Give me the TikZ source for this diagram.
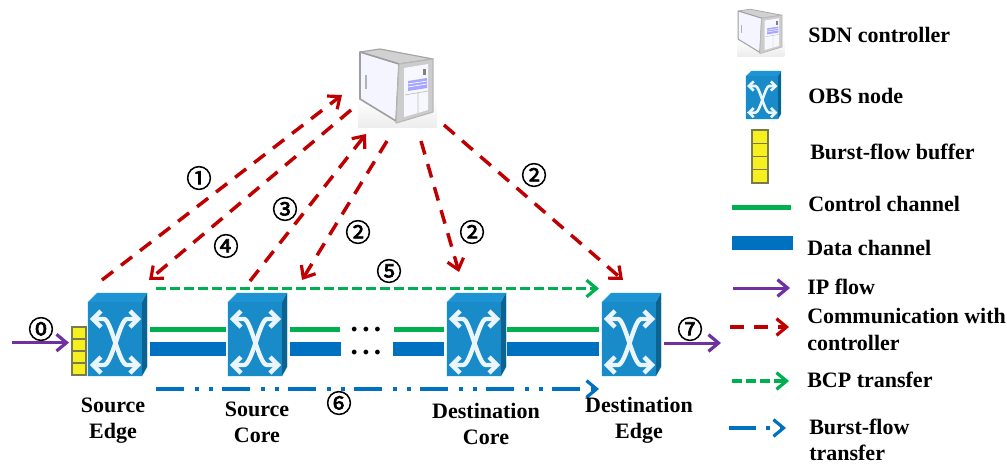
\documentclass[tikz,border=0pt]{standalone}
\usepackage{fontspec}
\setmainfont{Liberation Serif}
\newfontfamily\circfont[FakeBold=2.6]{Noto Sans CJK JP}
\usetikzlibrary{arrows.meta,calc}
\definecolor{cred}{HTML}{C00000}
\definecolor{cgreen}{HTML}{00B050}
\definecolor{cblue}{HTML}{0070C0}
\definecolor{cpurple}{HTML}{7030A0}
\definecolor{obsfront}{HTML}{1A8BC9}
\definecolor{obstop}{HTML}{1E94D4}
\definecolor{obsside}{HTML}{0D6390}
\definecolor{obshalo}{HTML}{D8F3FB}
\definecolor{obsx}{HTML}{EAF6FB}
\definecolor{bufy}{HTML}{F5F01E}
\definecolor{bufb}{HTML}{7A7A50}
\tikzset{
  iconbox/.style={inner sep=0pt,outer sep=0pt},
  lbl/.style={font=\fontsize{16.5}{19.5}\selectfont\bfseries,inner sep=0pt,align=center},
  leg/.style={font=\fontsize{16.5}{20}\selectfont\bfseries,inner sep=0pt,align=left,anchor=west},
  num/.style={font=\fontsize{19}{19}\selectfont\circfont,inner sep=0pt,xshift=0.75pt},
  vee/.style={-{Straight Barb[length=7.5pt,width=12.5pt,line width=2.4pt]}},
  ctrlch/.style={draw=cgreen,line width=3.75pt},
  datach/.style={draw=cblue,line width=10.5pt},
  ipflow/.style={vee,draw=cpurple,line width=2.25pt},
  comm/.style={vee,draw=cred,line width=2.6pt,dash pattern=on 10.5pt off 7.5pt},
  bcp/.style={vee,draw=cgreen,line width=2.4pt,dash pattern=on 7.5pt off 3pt},
  burst/.style={vee,draw=cblue,line width=2.4pt,dash pattern=on 21pt off 8pt on 3pt off 7.5pt on 3pt off 7pt},
  dotsn/.style={font=\fontsize{22}{17.25}\selectfont\bfseries,inner sep=0pt,align=center}
}
\newcommand{\obsicon}[5]{%
  \node[iconbox,minimum width=#4*44.25pt,minimum height=#5*62.25pt,anchor=north west] (#1) at (#2,#3) {};
  \begin{scope}[shift={(#2,#3)},xscale=#4,yscale=#5]
    \draw[draw=obshalo,line width=1.2pt,line join=round] (0,9)--(9,0)--(59,0)--(59,74)--(54,83)--(0,83)--cycle;
    \fill[obstop] (0,9)--(9,0)--(59,0)--(54,9)--cycle;
    \fill[obsside] (54,9)--(59,0)--(59,74)--(54,83)--cycle;
    \fill[obsfront] (0,9) rectangle (54,83);
    \begin{scope}[draw=obsx,line width=#4*3.3pt,line join=miter]
      \draw (5,26)--(16,26) .. controls (23,26) and (31,72) .. (39,72)--(50,72);
      \draw (50,26)--(39,26) .. controls (32,26) and (24,72) .. (16,72)--(5,72);
      \draw (13,18)--(5,26)--(13,34);
      \draw (42,18)--(50,26)--(42,34);
      \draw (13,64)--(5,72)--(13,80);
      \draw (42,64)--(50,72)--(42,80);
    \end{scope}
  \end{scope}}
\newcommand{\servericon}[4]{%
  \node[iconbox,minimum width=#4*59.25pt,minimum height=#4*60pt,anchor=north west] (#1) at (#2,#3) {};
  \begin{scope}[shift={(#2,#3)},scale=#4]
    \shade[top color=white,bottom color=black!7,draw=none] (0,52) rectangle (79,80);
    \fill[draw=black!35,line width=#4*0.9pt,fill=black!18,line join=round] (2,5)--(22,2)--(75,12)--(41,17)--cycle;
    \fill[draw=black!38,line width=#4*1.2pt,fill=blue!4!white,line join=round] (2,5)--(41,17)--(38,74)--(2,52)--cycle;
    \fill[draw=black!28,line width=#4*0.9pt,fill=black!20,line join=round] (41,17)--(75,12)--(75,65)--(38,76)--cycle;
    \fill[fill=blue!3!white] (46,21)--(70,17)--(70,63)--(46,70)--cycle;
    \fill[blue!35!white] (50,34)--(69,31)--(69,41)--(50,44)--cycle;
    \draw[white,line width=#4*0.5pt] (50,37)--(69,34) (50,40)--(69,37);
    \draw[black!25,line width=#4*0.5pt] (47,48)--(70,44) (60,46)--(60,66);
    \fill[black!50] (65,22) rectangle (68,28);
    \draw[black!30,line width=#4*0.8pt] (8,28)--(8,42);
  \end{scope}}
\newcommand{\bufficon}[5]{%
  \node[iconbox,draw=bufb,fill=bufy,line width=0.8pt,minimum width=#4*0.75pt,minimum height=#5*0.75pt,anchor=north west] (#1) at (#2,#3) {};
  \draw[bufb,line width=0.8pt] ($(#1.north west)!.25!(#1.south west)$)--($(#1.north east)!.25!(#1.south east)$)
    ($(#1.north west)!.5!(#1.south west)$)--($(#1.north east)!.5!(#1.south east)$)
    ($(#1.north west)!.75!(#1.south west)$)--($(#1.north east)!.75!(#1.south east)$);}
\begin{document}
\begin{tikzpicture}[x=0.75pt,y=-0.75pt]
\useasboundingbox (0,0) rectangle (1007,464);
% --- network icons
\servericon{ctrl}{358}{47}{1}
\obsicon{se}{88}{293}{1}{1}
\obsicon{sc}{228}{293}{1}{1}
\obsicon{dc}{447}{293}{1}{1}
\obsicon{de}{602}{293}{1}{1}
\bufficon{buf}{72}{327}{14}{48}
% --- dots
\node[dotsn] (dots) at (366,341) {.\hspace{3.2pt}.\hspace{3.2pt}.\\.\hspace{3.2pt}.\hspace{3.2pt}.};
% --- free ends
\coordinate (inflow) at (12,342.7);
\coordinate (outflow) at (721,343);
\coordinate (cta) at (340,329.5);
\coordinate (ctb) at (394,329.5);
\coordinate (dta) at (341,348.5);
\coordinate (dtb) at (393,348.5);
% --- channels
\draw[ctrlch] ([shift={(32.5,-5)}]se.center)--([shift={(-31.5,-5)}]sc.center);
\draw[ctrlch] ([shift={(32.5,-5)}]sc.center)--(cta);
\draw[ctrlch] (ctb)--([shift={(-32.5,-5)}]dc.center);
\draw[ctrlch] ([shift={(30.5,-5)}]dc.center)--([shift={(-32.5,-5)}]de.center);
\draw[datach] ([shift={(32.5,14)}]se.center)--([shift={(-31.5,14)}]sc.center);
\draw[datach] ([shift={(32.5,14)}]sc.center)--(dta);
\draw[datach] (dtb)--([shift={(-32.5,14)}]dc.center);
\draw[datach] ([shift={(30.5,14)}]dc.center)--([shift={(-32.5,14)}]de.center);
% --- flows
\draw[ipflow] (inflow)--([shift={(-3,15.7)}]buf.north west);
\draw[ipflow] ([shift={(32.5,8.5)}]de.center)--(outflow);
\draw[bcp] ([shift={(38.5,-46)}]se.center)--([shift={(-32.5,-46)}]de.center);
\draw[burst] ([shift={(38.5,54.5)}]se.center)--([shift={(-32.5,54.5)}]de.center);
% --- controller communication
\draw[comm] ([shift={(-15.5,-54.5)}]se.center)--([shift={(-55.5,8)}]ctrl.center);
\draw[comm] ([shift={(-46.5,23)}]ctrl.center)--([shift={(31.5,-54.5)}]se.center);
\draw[comm] ([shift={(-7.5,-53.5)}]sc.center)--([shift={(-31.5,47)}]ctrl.center);
\draw[comm] ([shift={(-10.5,54)}]ctrl.center)--([shift={(44.5,-54.5)}]sc.center);
\draw[comm] ([shift={(23.5,54)}]ctrl.center)--([shift={(-17.5,-62.5)}]dc.center);
\draw[comm] ([shift={(46.5,38)}]ctrl.center)--([shift={(-8.5,-54.5)}]de.center);
% --- step numbers
\node[num] (n0) at (40,329) {⓪};
\node[num] (n1) at (198,178) {①};
\node[num] (n4) at (225,246) {④};
\node[num] (n3) at (284,209) {③};
\node[num] (n2a) at (357,232) {②};
\node[num] (n2b) at (471,232) {②};
\node[num] (n2c) at (533,175) {②};
\node[num] (n5) at (388,271) {⑤};
\node[num] (n6) at (338,403) {⑥};
\node[num] (n7) at (689,329) {⑦};
% --- node labels
\node[lbl] (lse) at (113,421) {Source\\Edge};
\node[lbl] (lsc) at (257,422) {Source\\Core};
\node[lbl] (ldc) at (486,424) {Destination\\Core};
\node[lbl] (lde) at (639,420) {Destination\\Edge};
% --- legend
\servericon{lgs}{737}{8}{0.6}
\obsicon{lgo}{746}{71}{0.593}{0.578}
\bufficon{lgb}{752}{130}{16}{53}
\node[leg] (ts) at (808,35) {SDN controller};
\node[leg] (to) at (808,96) {OBS node};
\node[leg] (tb) at (810,152) {Burst-flow buffer};
\node[leg] (tc) at (808,204) {Control channel};
\node[leg] (td) at (807,248) {Data channel};
\node[leg] (ti) at (807,287) {IP flow};
\node[leg] (tm) at (807,329.5) {Communication with\\controller};
\node[leg] (tp) at (807,380) {BCP transfer};
\node[leg] (tf) at (809,440) {Burst-flow\\transfer};
\coordinate (lc1) at (732,207); \coordinate (lc2) at (791,207);
\coordinate (ld1) at (732,243); \coordinate (ld2) at (793,243);
\coordinate (li1) at (733,288); \coordinate (li2) at (790,288);
\coordinate (lm1) at (730,327); \coordinate (lm2) at (789,327);
\coordinate (lp1) at (732,381); \coordinate (lp2) at (789,381);
\coordinate (lf1) at (729,428); \coordinate (lf2) at (786,428);
\draw[ctrlch] (lc1)--(lc2);
\draw[datach] (ld1)--(ld2);
\draw[ipflow] (li1)--(li2);
\draw[comm] (lm1)--(lm2);
\draw[bcp] (lp1)--(lp2);
\draw[vee,draw=cblue,line width=2.4pt,dash pattern=on 20pt off 8pt on 3pt off 7pt] (lf1)--(lf2);
\end{tikzpicture}
\end{document}
